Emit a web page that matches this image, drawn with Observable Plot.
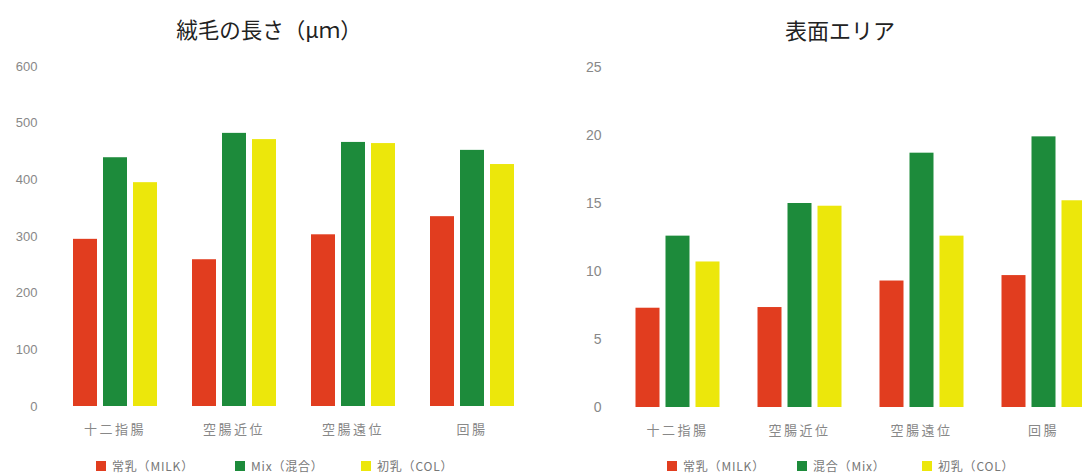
<!DOCTYPE html>
<html>
<head>
<meta charset="utf-8">
<script src="https://cdn.jsdelivr.net/npm/d3@7"></script>
<script src="https://cdn.jsdelivr.net/npm/@observablehq/plot@0.6"></script>
<style>
  html, body { margin: 0; padding: 0; background: #fff; }
  body { width: 1082px; height: 474px; overflow: hidden; position: relative;
         font-family: "Liberation Sans", "Noto Sans CJK JP", sans-serif; }
  .title { position: absolute; text-align: center; font-family: "Noto Sans CJK JP", sans-serif;
           color: #222; white-space: nowrap; }
  .chart { position: absolute; }
  .chart svg { max-width: none !important; }
  .legend { position: absolute; line-height: 14px; }
  .legend .lg-swatches-wrap, .legend .lg-swatches { min-height: 0 !important; margin: 0 !important;
           font-family: "Noto Sans CJK JP", sans-serif !important; font-size: 12px !important;
           letter-spacing: 0.8px; color: #777 !important; flex-wrap: nowrap !important; line-height: 14px; }
  .legend .lg-swatch { margin-right: 0 !important; white-space: nowrap; }
  .legend .lg-swatch > svg { margin-right: 6px !important; }
  .fxlab text { letter-spacing: 2.5px; }
</style>
</head>
<body>
<div class="title" style="left:169px; width:200px; top:13px; font-size:21.5px;">絨毛の長さ（μｍ）</div>
<div class="title" style="left:740px; width:200px; top:13px; font-size:22px;">表面エリア</div>
<div class="chart" id="left" style="left:0px; top:50px; width:540px;"></div>
<div class="chart" id="right" style="left:540px; top:51px; width:580px;"></div>
<div class="legend" id="legL" style="left:96px; top:459px;"></div>
<div class="legend" id="legR" style="left:667px; top:459px;"></div>
<script>
const categories = ["十二指腸", "空腸近位", "空腸遠位", "回腸"];
const seriesLeft = ["常乳（MILK）", "Mix（混合）", "初乳（COL）"];
const seriesRight = ["常乳（MILK）", "混合（Mix）", "初乳（COL）"];
const colors = ["#e13d1f", "#1d8b3b", "#ece70b"];

// 絨毛の長さ (μm)
const villusMilk = [295, 259, 303, 335];
const villusMix  = [439, 482, 466, 452];
const villusCol  = [395, 471, 464, 427];
const villusTicks = [0, 100, 200, 300, 400, 500, 600];

// 表面エリア
const areaMilk = [7.3, 7.35, 9.3, 9.7];
const areaMix  = [12.6, 15.0, 18.7, 19.9];
const areaCol  = [10.7, 14.8, 12.6, 15.2];
const areaTicks = [0, 5, 10, 15, 20, 25];

function makeChart(series, values, ticks, o) {
  const data = categories.flatMap((c, i) => series.map((s, j) => ({cat: c, ser: s, v: values[j][i]})));
  return Plot.plot({
    width: o.width, height: 400,
    marginTop: 16, marginBottom: 44, marginLeft: o.marginLeft, marginRight: o.marginRight,
    style: {fontFamily: '"Liberation Sans", "Noto Sans CJK JP", sans-serif', fontSize: "13px", color: "#888", background: "transparent"},
    fx: {domain: categories, padding: 0, label: null},
    x: {domain: series, axis: null, paddingInner: o.pi, paddingOuter: o.po},
    y: {domain: [0, ticks[ticks.length - 1]], label: null},
    color: {domain: series, range: colors},
    marks: [
      Plot.barY(data, {fx: "cat", x: "ser", y: "v", fill: "ser"}),
      Plot.axisY(ticks, {tickSize: 0, tickPadding: o.yPad, label: null, fill: "#888", fontSize: o.yFont}),
      Plot.axisFx({anchor: "bottom", tickSize: 0, tickPadding: 18, label: null, fill: "#888",
                   fontFamily: '"Noto Sans CJK JP", sans-serif', fontSize: 13, className: "fxlab"})
    ]
  });
}

document.getElementById("left").append(
  makeChart(seriesLeft, [villusMilk, villusMix, villusCol], villusTicks,
            {width: 540, marginLeft: 55, marginRight: 9, pi: 0.213, po: 0.557, yPad: 18, yFont: 13})
);
document.getElementById("right").append(
  makeChart(seriesRight, [areaMilk, areaMix, areaCol], areaTicks,
            {width: 580, marginLeft: 75.5, marginRight: 16.5, pi: 0.21, po: 0.573, yPad: 15, yFont: 14})
);

function addLegend(id, series, widths) {
  const el = document.getElementById(id);
  el.append(Plot.legend({color: {domain: series, range: colors}, legend: "swatches", swatchSize: 10, className: "lg"}));
  el.querySelectorAll(".lg-swatch").forEach((s, i) => {
    if (widths[i]) { s.style.width = widths[i] + "px"; s.style.flex = "0 0 " + widths[i] + "px"; }
  });
}
addLegend("legL", seriesLeft, [139, 126]);
addLegend("legR", seriesRight, [130, 125]);
</script>
</body>
</html>
